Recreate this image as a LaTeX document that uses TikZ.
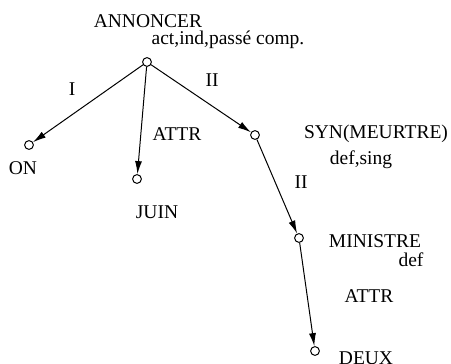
\documentclass[tikz,border=0pt]{standalone}
\usepackage{fontspec}
\setmainfont{Liberation Serif}
\usetikzlibrary{arrows.meta}
\tikzstyle{sommet}=[circle, draw=black, fill=white, inner sep=0pt, minimum size=4.4pt, line width=0.5pt]
\tikzstyle{etiq}=[inner sep=0pt, font=\fontsize{9.75}{11}\selectfont]
\tikzstyle{arc}=[draw=black, line width=0.5pt, -{Latex[length=6.5pt,width=3.5pt]}]

\begin{document}
\begin{tikzpicture}[x=0.5pt, y=-0.5pt]
	\useasboundingbox (0,0) rectangle (451,364);
	% sommets de l'arbre
	\node[sommet] (annoncer) at (147,62) {};
	\node[sommet] (on) at (29,145) {};
	\node[sommet] (juin) at (137,179) {};
	\node[sommet] (syn) at (255,135) {};
	\node[sommet] (ministre) at (299,238) {};
	\node[sommet] (deux) at (315,351) {};
	% lexemes et grammemes
	\node[etiq] (l-annoncer) at (148,21) {ANNONCER};
	\node[etiq] (g-annoncer) at (228,40) {act,ind,passé comp.};
	\node[etiq] (l-on) at (23,168) {ON};
	\node[etiq] (l-juin) at (157,212) {JUIN};
	\node[etiq] (l-syn) at (376,134) {SYN(MEURTRE)};
	\node[etiq] (g-syn) at (361,159.5) {def,sing};
	\node[etiq] (l-ministre) at (375,241) {MINISTRE};
	\node[etiq] (g-ministre) at (411,260) {def};
	\node[etiq] (l-deux) at (366,358) {DEUX};
	% relations
	\node[etiq] (r1) at (72,89) {I};
	\node[etiq] (r2) at (212,80) {II};
	\node[etiq] (r3) at (177,134) {ATTR};
	\node[etiq] (r4) at (301,182) {II};
	\node[etiq] (r5) at (369,296) {ATTR};
	\path[arc] (annoncer) -- (on);
	\path[arc] (annoncer) -- (juin);
	\path[arc] (annoncer) -- (syn);
	\path[arc] (syn) -- (ministre);
	\path[arc] (ministre) -- (deux);
\end{tikzpicture}
\end{document}
